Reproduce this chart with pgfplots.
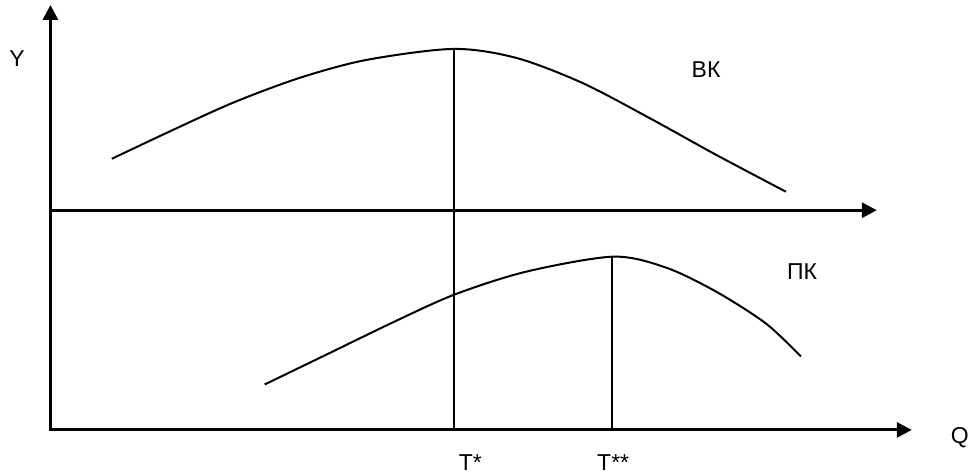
\documentclass[border=0pt]{standalone}
\usepackage{fontspec}
\setmainfont{Liberation Sans}
\usepackage{pgfplots}
\pgfplotsset{compat=1.18}
\usetikzlibrary{arrows.meta}
\begin{document}
\begin{tikzpicture}
\begin{axis}[
  scale only axis,
  width=972pt, height=473pt,
  xmin=0, xmax=972, ymin=0, ymax=473,
  axis lines=none,
  clip=false,
]
\path (axis cs:0,0) rectangle (axis cs:972,473);
% axes
\addplot[black, line width=3pt, -{Triangle[length=15pt,width=15pt]}]
  coordinates {(50.5,42.5) (50.5,468)};
\addplot[black, line width=3pt, -{Triangle[length=15pt,width=15pt]}]
  coordinates {(49,42.5) (913,42.5)};
\addplot[black, line width=3pt, -{Triangle[length=15pt,width=15pt]}]
  coordinates {(49,262.5) (878,262.5)};
% upper curve
\addplot[black, line width=2pt, smooth]
  coordinates {(112,314) (167,340) (233,370) (300,395) (367,413)
               (454,424) (517,415) (583,390) (650,355) (717,318) (787,281)};
% lower curve
\addplot[black, line width=2pt, smooth]
  coordinates {(265,88) (327,118) (393,150) (455,178) (527,201)
               (614,216) (667,205) (717,181) (767,149) (802,116)};
% drop lines
\addplot[black, line width=2pt] coordinates {(455,43) (455,424)};
\addplot[black, line width=2pt] coordinates {(613,43) (613,216)};
% labels
\node[font=\fontsize{23}{27}\selectfont] at (axis cs:17,414) {Y};
\node[font=\fontsize{23}{27}\selectfont] at (axis cs:707,403) {ВК};
\node[font=\fontsize{23}{27}\selectfont] at (axis cs:803,201) {ПК};
\node[font=\fontsize{23}{27}\selectfont] at (axis cs:961,35) {Q};
\node[font=\fontsize{23}{27}\selectfont] at (axis cs:471,10) {T*};
\node[font=\fontsize{23}{27}\selectfont] at (axis cs:614,10) {T**};
\end{axis}
\end{tikzpicture}
\end{document}
